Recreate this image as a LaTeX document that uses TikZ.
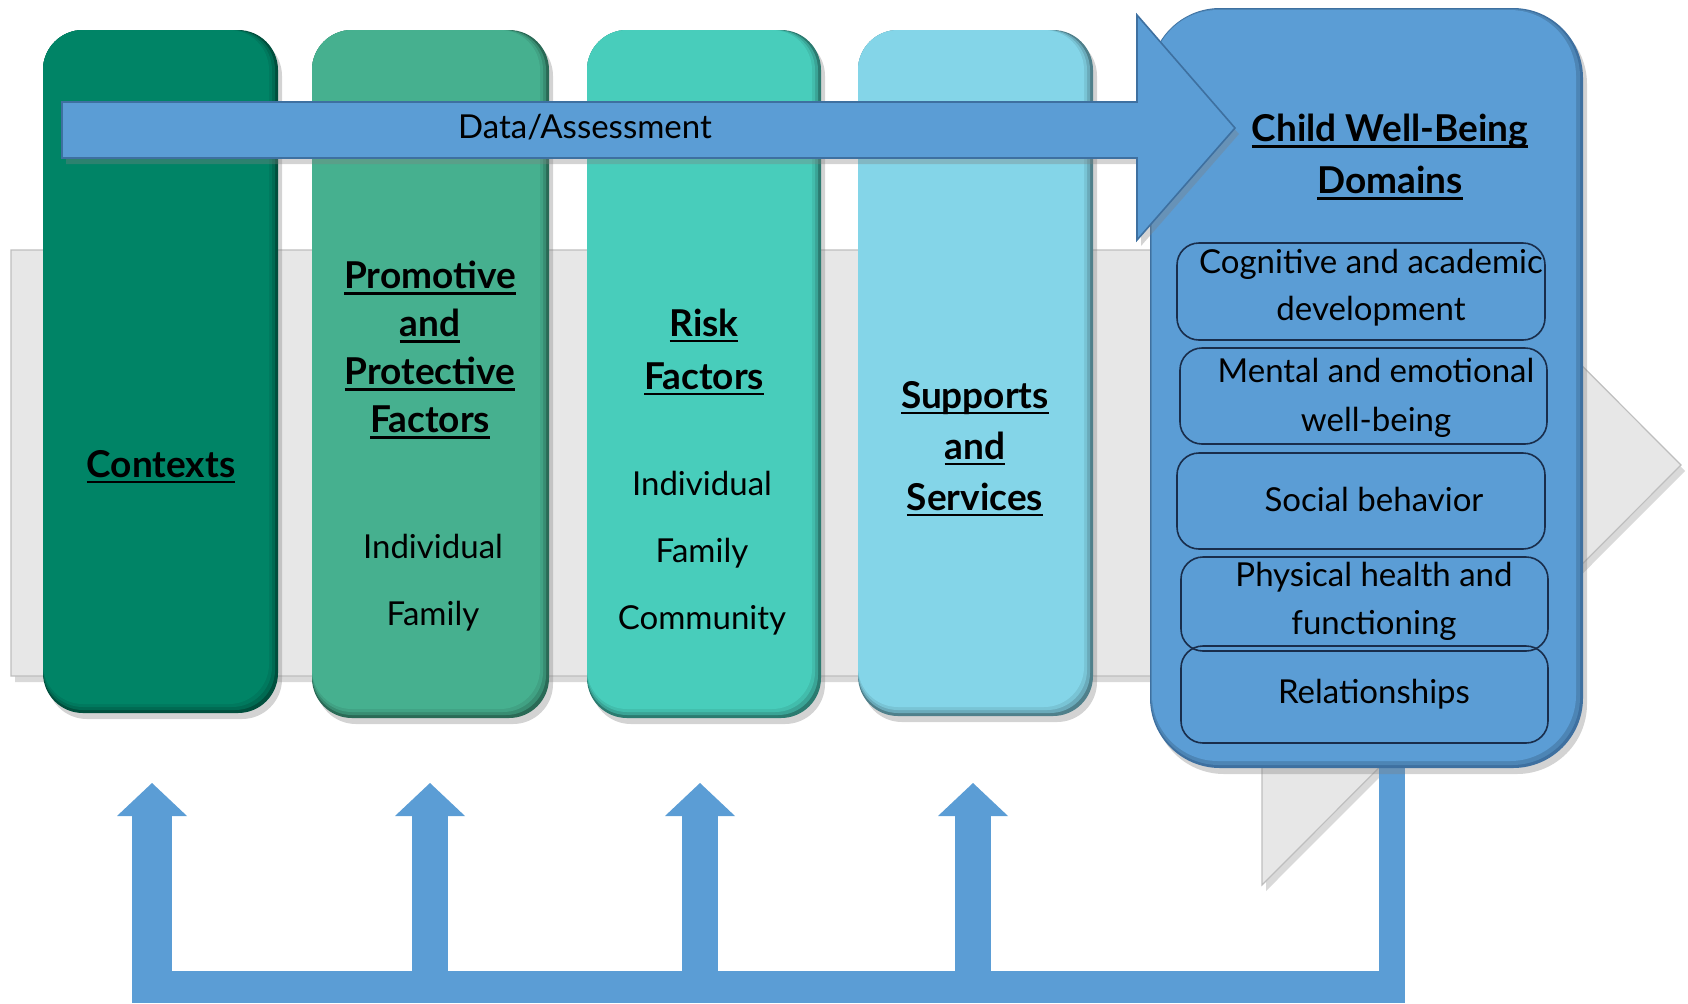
\documentclass[tikz,border=0pt]{standalone}
\usepackage{fontspec}
\setmainfont{Lato}
\usetikzlibrary{shadows}
\definecolor{cctx}{RGB}{0,132,102}
\definecolor{cpro}{RGB}{70,176,143}
\definecolor{crisk}{RGB}{72,205,187}
\definecolor{csup}{RGB}{132,213,232}
\definecolor{cblue}{RGB}{91,157,213}
\definecolor{cblueedge}{RGB}{62,112,160}
\definecolor{cgray}{RGB}{231,231,231}
\definecolor{cgrayedge}{RGB}{190,190,190}
\definecolor{cnavy}{RGB}{25,45,75}
\newsavebox\hdrbox
\newcommand{\hdr}[1]{\sbox\hdrbox{#1}\rlap{\rule[-2.8pt]{\wd\hdrbox}{1.1pt}}\usebox\hdrbox}
\begin{document}
\begin{tikzpicture}[x=0.5pt,y=-0.5pt,
  colbox/.style={rounded corners=20pt, drop shadow={shadow xshift=2pt,shadow yshift=-3pt,opacity=0.35}},
  hd/.style={font=\fontsize{18.5}{#1}\selectfont\bfseries, align=center, inner sep=0pt},
  hd/.default=24,
  tx/.style={font=\fontsize{16.5}{#1}\selectfont, align=center, inner sep=0pt},
  tx/.default=23,
  inbox/.style={draw=cnavy, line width=0.8pt, rounded corners=11pt},
  fb/.style={fill=cblue}]
\useasboundingbox (0,0) rectangle (1688,1003);

% big gray background arrow
\fill[cgray, draw=cgrayedge, line width=0.6pt, drop shadow={shadow xshift=2pt,shadow yshift=-3pt,opacity=0.3}]
  (11,250) -- (1262,250) -- (1262,45) -- (1681,465) -- (1262,885) -- (1262,676) -- (11,676) -- cycle;

% columns (with bevelled right/bottom rim)
\foreach \xa/\ya/\xb/\yb/\c in {43/30/278/713/cctx, 312/30/549/718/cpro, 587/30/821/718/crisk, 858/30/1093/716/csup}{
  \path[colbox, fill=\c!60!black] (\xa,\ya) rectangle (\xb,\yb);
  \fill[\c!80!black, rounded corners=20pt] (\xa,\ya) rectangle (\xb-3,\yb-3);
  \fill[\c!92!black, rounded corners=20pt] (\xa,\ya) rectangle (\xb-6,\yb-6);
  \fill[\c, rounded corners=20pt] (\xa,\ya) rectangle (\xb-9,\yb-9);
}

\node[hd] (ctx) at (161,467) {\hdr{Contexts}};
\node[hd=24] (pro) at (430,350) {\hdr{Promotive}\\\hdr{and}\\\hdr{Protective}\\\hdr{Factors}};
\node[tx=33.5] (proitems) at (433,583) {Individual\\Family};
\node[hd=26.5] (risk) at (704,352) {\hdr{Risk}\\\hdr{Factors}};
\node[tx=33.5] (riskitems) at (702,553) {Individual\\Family\\Community};
\node[hd=25.5] (sup) at (975,449) {\hdr{Supports}\\\hdr{and}\\\hdr{Services}};

% feedback arrows
\coordinate (t1) at (152,783);
\coordinate (t2) at (430,783);
\coordinate (t3) at (700,783);
\coordinate (t4) at (973,783);
\fill[fb] (132,971) rectangle (1405,1003);
\fill[fb] (1379,760) rectangle (1405,1003);
\foreach \t/\w in {t1/20,t2/18,t3/18,t4/18}{
  \fill[fb] ([xshift=-\w*0.5pt]\t) ++(0,33) rectangle ([xshift=\w*0.5pt]\t |- 0,1003);
  \fill[fb] (\t) -- ++(35,33) -- ++(-70,0) -- cycle;
}

% well-being box
\path[fill=cblueedge, rounded corners=35pt,
  drop shadow={shadow xshift=2pt,shadow yshift=-3pt,opacity=0.35}] (1150,8) rectangle (1583,768);
\fill[cblue!85!black, rounded corners=34pt] (1151,9) rectangle (1580,765);
\fill[cblue, rounded corners=33pt] (1152,10) rectangle (1576,761);
\node[hd=26] (cwb) at (1390,157) {\hdr{Child Well-Being}\\\hdr{Domains}};

\draw[inbox] (1177,243) rectangle (1545,340);
\draw[inbox] (1180,348) rectangle (1547,444);
\draw[inbox] (1177,453) rectangle (1545,549);
\draw[inbox] (1181,557) rectangle (1548,651);
\draw[inbox] (1181,646) rectangle (1548,743);
\node[tx=23.5] (d1) at (1371,288) {Cognitive and academic\\development};
\node[tx=24.5] (d2) at (1376,398) {Mental and emotional\\well-being};
\node[tx] (d3) at (1374,499) {Social behavior};
\node[tx=24] (d4) at (1374,601) {Physical health and\\functioning};
\node[tx] (d5) at (1374,694) {Relationships};

% data/assessment arrow
\path[fill=cblue, draw=cblueedge, line width=0.8pt,
  drop shadow={shadow xshift=2pt,shadow yshift=-3pt,opacity=0.35}]
  (62,102) -- (1137,102) -- (1137,15) -- (1235,128) -- (1137,240) -- (1137,158) -- (62,158) -- cycle;
\node[tx, font=\fontsize{16.5}{20}\selectfont] (data) at (585,127) {Data/Assessment};
\end{tikzpicture}
\end{document}
